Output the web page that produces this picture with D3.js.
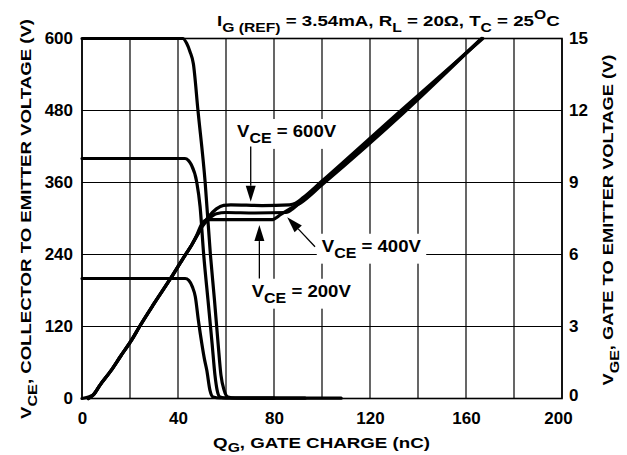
<!DOCTYPE html>
<html>
<head>
<meta charset="utf-8">
<script src="https://cdn.jsdelivr.net/npm/d3@7"></script>
<style>
  body { margin: 0; background: #fff; }
  svg { display: block; }
  text { font-family: "Liberation Sans", Arial, Helvetica, sans-serif; font-weight: bold; fill: #000; }
</style>
</head>
<body>
<svg id="chart" width="627" height="455"></svg>
<script>
// tick labels
const qTicks = [0, 40, 80, 120, 160, 200];
const vceTicks = [0, 120, 240, 360, 480, 600];
const vgeTicks = [0, 3, 6, 9, 12, 15];

// V_CE vs Q_G (left axis), [nC, V]
const vce200 = [[0, 200], [43, 200], [44.5, 197], [46, 186], [47.2, 170], [48.5, 130], [49.9, 92], [51, 66], [52, 47], [53.3, 14], [54.6, 2.5], [57.5, 0.8], [80, 0.5]];
const vce400 = [[0, 400], [42.9, 400], [44.3, 397], [45.5, 390], [47.8, 361], [49.2, 320], [50.7, 240], [52.5, 164], [54.2, 92], [55.4, 39], [56.3, 14], [57.5, 2.5], [60, 0.8], [93, 0.5]];
const vce600 = [[0, 600], [42, 600], [43.6, 592], [45, 578], [46.4, 558], [48.3, 481], [51.3, 361], [53.5, 240], [55.2, 164], [56.7, 92], [57.9, 39], [59.2, 14], [60.8, 2.5], [63.8, 0.8], [108, 0.5]];

// V_GE vs Q_G (right axis), [nC, V]
const vge200 = [[0, 0], [4.7, 0.15], [7.5, 0.56], [12, 1.15], [16, 1.75], [20.7, 2.44], [24, 3.0], [30, 3.95], [36.7, 4.97], [42, 5.82], [46, 6.45], [48, 6.85], [49.5, 7.2], [51, 7.4], [53, 7.45], [65, 7.45], [79, 7.45], [83, 7.68], [88, 7.98], [91, 8.14], [100, 8.9], [134, 11.9], [166, 14.95]];
const vge400 = [[2.6, 0], [4.7, 0.15], [7.5, 0.56], [12, 1.15], [16, 1.75], [20.7, 2.44], [24, 3.0], [30, 3.95], [36.7, 4.97], [42, 5.82], [46, 6.45], [48, 6.8], [50, 7.15], [53, 7.5], [56, 7.7], [60, 7.75], [72, 7.73], [85, 7.75], [88, 7.92], [91, 8.18], [100, 8.97], [134, 12], [166.5, 15]];
const vge600 = [[2.6, 0], [4.7, 0.15], [7.5, 0.56], [12, 1.15], [16, 1.75], [20.7, 2.44], [24, 3.0], [30, 3.95], [36.7, 4.97], [42, 5.82], [46, 6.45], [48, 6.8], [50.4, 7.25], [53, 7.6], [56, 7.9], [59, 8.05], [62, 8.07], [75, 8.04], [86.5, 8.07], [89, 8.14], [92, 8.36], [100, 9.06], [134, 12.1], [167, 15]];

// annotation labels, positions in [nC, V_CE]
const notes = [
  { lbl: "600V", at: [64.6, 436], from: [70.3, 420], to: [70.3, 328] },
  { lbl: "400V", at: [99.9, 244.7], from: [97.1, 253], to: [85.5, 302] },
  { lbl: "200V", at: [70.7, 169.7], from: [73.9, 200], to: [73.9, 289] }
];

const svg = d3.select("#chart");
const L = 82, R = 562, T = 38.5, B = 398.5;

const x = d3.scaleLinear().domain([0, 200]).range([L, R]);
const yL = d3.scaleLinear().domain([0, 600]).range([B, T]);
const yR = d3.scaleLinear().domain([0, 15]).range([B, T]);

// sub / superscript helper
function rich(t, parts, fs, subFs, drop) {
  let cur = 0;
  const d = drop || 0.38;
  parts.forEach(p => {
    const off = p[1] === "sub" ? fs * d : p[1] === "sup" ? -fs * 0.42 : 0;
    t.append("tspan").attr("dy", off - cur)
      .attr("font-size", p[1] ? subFs : fs).text(p[0]);
    cur = off;
  });
  return t;
}

// stretch a text horizontally (the reference face is wider)
function widen(t, base, sx) {
  t.attr("transform", base + ` scale(${sx},1)`);
  return t;
}
function fitTo(t, base, len) {
  const w = t.node().getBBox().width;
  return widen(t, base, len / w);
}

// grid
const grid = svg.append("g").attr("stroke", "#000").attr("stroke-width", 1.2);
grid.selectAll(".gx").data(d3.range(0, 201, 20)).join("line")
  .attr("x1", d => x(d)).attr("x2", d => x(d)).attr("y1", T).attr("y2", B);
grid.selectAll(".gy").data(vceTicks).join("line")
  .attr("x1", L).attr("x2", R).attr("y1", d => yL(d)).attr("y2", d => yL(d));
svg.append("rect").attr("x", L).attr("y", T).attr("width", R - L).attr("height", B - T)
  .attr("fill", "none").attr("stroke", "#000").attr("stroke-width", 1.6);

// axes (labels only)
const fsTick = 17;
svg.append("g").attr("transform", `translate(${L},0)`)
  .call(d3.axisLeft(yL).tickValues(vceTicks).tickSize(0).tickPadding(9))
  .call(g => g.select(".domain").remove())
  .selectAll("text").attr("font-size", fsTick).attr("font-family", null);
svg.append("g").attr("transform", `translate(${R},0)`)
  .call(d3.axisRight(yR).tickValues(vgeTicks).tickSize(0).tickPadding(7))
  .call(g => g.select(".domain").remove())
  .selectAll("text").attr("font-size", fsTick).attr("font-family", null)
  .attr("y", d => d === 0 ? -3 : 0);
svg.append("g").attr("transform", `translate(0,${B})`)
  .call(d3.axisBottom(x).tickValues(qTicks).tickSize(0).tickPadding(13))
  .call(g => g.select(".domain").remove())
  .selectAll("text").attr("font-size", fsTick).attr("font-family", null)
  .attr("x", d => d === 200 ? -4 : 0);

// axis titles
let t = rich(svg.append("text").attr("text-anchor", "middle"),
  [["Q"], ["G", "sub"], [", GATE CHARGE (nC)"]], 15.5, 13, 0.26);
fitTo(t, "translate(321.5,448)", 217);
t = rich(svg.append("text").attr("text-anchor", "middle"),
  [["V"], ["CE", "sub"], [", COLLECTOR TO EMITTER  VOLTAGE (V)"]], 15.5, 13.5);
fitTo(t, "translate(31,219) rotate(-90)", 400);
t = rich(svg.append("text").attr("text-anchor", "middle"),
  [["V"], ["GE", "sub"], [", GATE TO EMITTER VOLTAGE (V)"]], 15.5, 13.5);
fitTo(t, "translate(613,220) rotate(-90)", 331);

// condition line
t = rich(svg.append("text"),
  [["I"], ["G (REF)", "sub"], [" = 3.54mA, R"], ["L", "sub"], [" = 20\u03A9, T"], ["C", "sub"], [" = 25"], ["O", "sup"], ["C"]], 15.5, 13);
fitTo(t, "translate(217,26)", 343);

// annotation labels with white knock-out
notes.forEach(n => {
  const g = svg.append("g");
  const tx = g.append("text");
  rich(tx, [["V"], ["CE", "sub"], [" = " + n.lbl]], 16.3, 14);
  widen(tx, `translate(${x(n.at[0])},${yL(n.at[1])})`, 1.14);
  const bb = tx.node().getBBox();
  g.insert("rect", "text")
    .attr("x", x(n.at[0]) + bb.x * 1.14 - 5).attr("y", yL(n.at[1]) + bb.y - 3)
    .attr("width", bb.width * 1.14 + 10).attr("height", bb.height + 6).attr("fill", "#fff");
});

// curves
const lnL = d3.line().x(d => x(d[0])).y(d => yL(d[1])).curve(d3.curveMonotoneX);
const lnR = d3.line().x(d => x(d[0])).y(d => yR(d[1])).curve(d3.curveMonotoneX);
const curves = svg.append("g").attr("fill", "none").attr("stroke", "#000")
  .attr("stroke-width", 3.2).attr("stroke-linejoin", "round").attr("stroke-linecap", "round");
[vce200, vce400, vce600].forEach(s => curves.append("path").attr("d", lnL(s)));
[vge200, vge400, vge600].forEach(s => curves.append("path").attr("d", lnR(s)));

// arrows
notes.forEach(n => {
  const x0 = x(n.from[0]), y0 = yL(n.from[1]), x1 = x(n.to[0]), y1 = yL(n.to[1]);
  const len = Math.hypot(x1 - x0, y1 - y0), ux = (x1 - x0) / len, uy = (y1 - y0) / len;
  const hl = 16, hw = 5;
  const bx = x1 - ux * hl, by = y1 - uy * hl;
  svg.append("line").attr("x1", x0).attr("y1", y0).attr("x2", bx).attr("y2", by)
    .attr("stroke", "#000").attr("stroke-width", 1.3);
  const p = d3.path();
  p.moveTo(x1, y1);
  p.lineTo(bx - uy * hw, by + ux * hw);
  p.lineTo(bx + uy * hw, by - ux * hw);
  p.closePath();
  svg.append("path").attr("d", p.toString()).attr("fill", "#000");
});
</script>
</body>
</html>
